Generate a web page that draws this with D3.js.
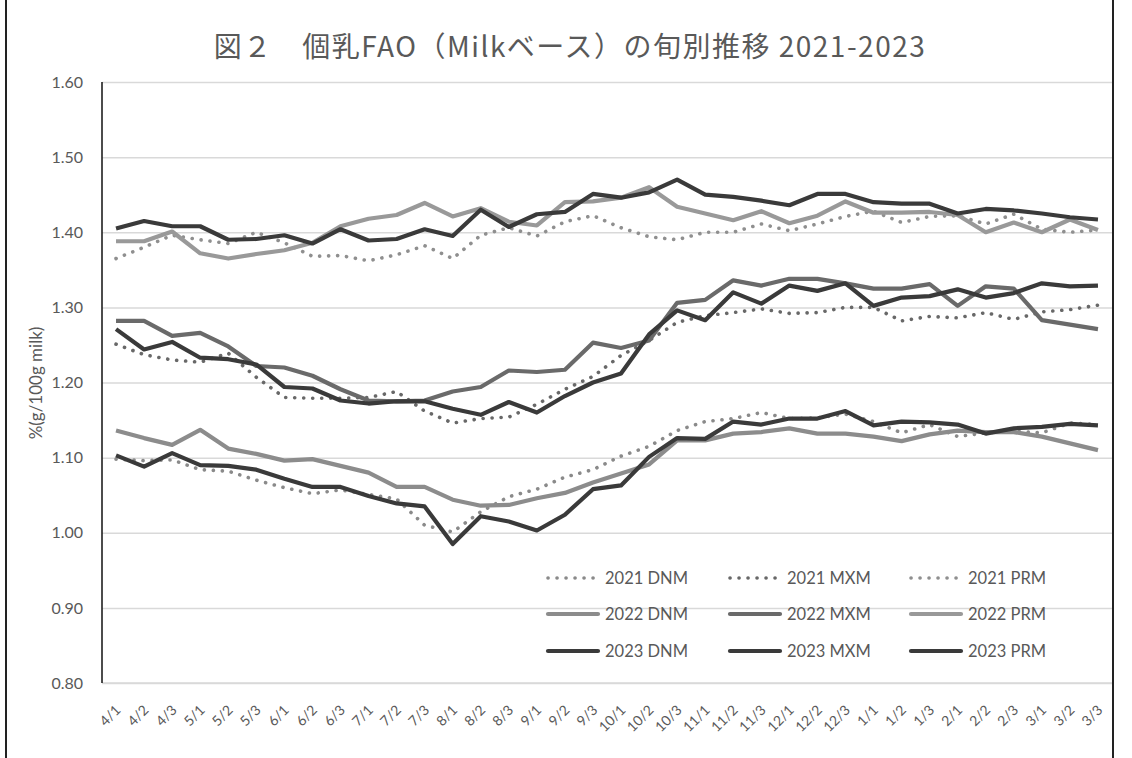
<!DOCTYPE html>
<html>
<head>
<meta charset="utf-8">
<script src="https://cdn.jsdelivr.net/npm/d3@7"></script>
<style>
  body { margin: 0; background: #fff; }
  svg { display: block; }
</style>
</head>
<body>
<div id="vis"></div>
<script>
// categories (旬: month/decade)
const cats = ["4/1","4/2","4/3","5/1","5/2","5/3","6/1","6/2","6/3","7/1","7/2","7/3",
  "8/1","8/2","8/3","9/1","9/2","9/3","10/1","10/2","10/3","11/1","11/2","11/3",
  "12/1","12/2","12/3","1/1","1/2","1/3","2/1","2/2","2/3","3/1","3/2","3/3"];

const dnm2021 = [1.098,1.096,1.097,1.084,1.082,1.070,1.060,1.052,1.057,1.051,1.045,1.010,
  1.001,1.028,1.048,1.058,1.074,1.084,1.102,1.115,1.136,1.148,1.152,1.160,
  1.152,1.153,1.158,1.148,1.133,1.144,1.128,1.133,1.135,1.133,1.146,1.144];
const mxm2021 = [1.251,1.237,1.230,1.227,1.239,1.207,1.180,1.179,1.179,1.180,1.188,1.162,
  1.146,1.152,1.154,1.171,1.191,1.208,1.236,1.256,1.280,1.289,1.293,1.298,
  1.292,1.293,1.300,1.300,1.282,1.288,1.286,1.293,1.284,1.294,1.297,1.303];
const prm2021 = [1.365,1.380,1.396,1.390,1.385,1.400,1.386,1.368,1.369,1.362,1.370,1.382,
  1.365,1.396,1.406,1.395,1.414,1.422,1.406,1.394,1.390,1.400,1.400,1.411,
  1.402,1.411,1.421,1.428,1.413,1.421,1.422,1.411,1.424,1.404,1.400,1.403];

const dnm2022 = [1.136,1.126,1.117,1.137,1.112,1.105,1.096,1.098,1.089,1.080,1.061,1.061,
  1.044,1.036,1.037,1.046,1.053,1.067,1.079,1.091,1.123,1.123,1.132,1.134,
  1.139,1.132,1.132,1.128,1.122,1.131,1.136,1.134,1.134,1.128,1.119,1.110];
const mxm2022 = [1.282,1.282,1.262,1.266,1.248,1.222,1.220,1.209,1.191,1.176,1.175,1.176,
  1.188,1.194,1.216,1.214,1.217,1.253,1.246,1.256,1.306,1.310,1.336,1.329,
  1.338,1.338,1.332,1.325,1.325,1.331,1.302,1.328,1.325,1.283,1.277,1.271];
const prm2022 = [1.388,1.388,1.401,1.372,1.365,1.371,1.376,1.386,1.408,1.418,1.423,1.439,
  1.421,1.432,1.414,1.409,1.440,1.441,1.446,1.460,1.434,1.425,1.416,1.428,
  1.412,1.422,1.441,1.426,1.426,1.427,1.423,1.400,1.413,1.400,1.417,1.403];

const dnm2023 = [1.103,1.088,1.106,1.090,1.089,1.084,1.072,1.061,1.061,1.049,1.039,1.035,
  0.985,1.022,1.015,1.003,1.024,1.058,1.063,1.101,1.126,1.125,1.148,1.144,
  1.152,1.152,1.162,1.143,1.148,1.147,1.144,1.132,1.139,1.141,1.145,1.143];
const mxm2023 = [1.271,1.244,1.254,1.233,1.231,1.224,1.194,1.192,1.176,1.172,1.175,1.175,
  1.165,1.157,1.174,1.160,1.182,1.200,1.212,1.264,1.296,1.283,1.320,1.305,
  1.329,1.322,1.332,1.302,1.313,1.315,1.324,1.313,1.319,1.332,1.328,1.329];
const prm2023 = [1.405,1.415,1.408,1.408,1.390,1.391,1.396,1.385,1.404,1.389,1.391,1.404,
  1.395,1.430,1.407,1.424,1.427,1.451,1.446,1.453,1.470,1.450,1.447,1.442,
  1.436,1.451,1.451,1.440,1.438,1.438,1.425,1.431,1.429,1.425,1.420,1.417];

const yTicks = [0.80,0.90,1.00,1.10,1.20,1.30,1.40,1.50,1.60];

// series styles, in legend order (row by row)
const series = [
  { name: "2021 DNM", values: dnm2021, color: "#8a8a8a", dotted: true },
  { name: "2021 MXM", values: mxm2021, color: "#686868", dotted: true },
  { name: "2021 PRM", values: prm2021, color: "#8f8f8f", dotted: true },
  { name: "2022 DNM", values: dnm2022, color: "#8c8c8c", dotted: false },
  { name: "2022 MXM", values: mxm2022, color: "#6a6a6a", dotted: false },
  { name: "2022 PRM", values: prm2022, color: "#999999", dotted: false },
  { name: "2023 DNM", values: dnm2023, color: "#3a3a3a", dotted: false },
  { name: "2023 MXM", values: mxm2023, color: "#3a3a3a", dotted: false },
  { name: "2023 PRM", values: prm2023, color: "#3a3a3a", dotted: false }
];

const W = 1132, H = 758;
const plot = { left: 102, right: 1112, top: 82, bottom: 683 };
const numFont = "Lato, 'Open Sans', sans-serif";

const svg = d3.select("#vis").append("svg")
  .attr("width", W)
  .attr("height", H);

svg.append("rect").attr("width", W).attr("height", H).attr("fill", "#fff");

// outer frame (left & right edges visible)
svg.append("line").attr("x1", 6).attr("x2", 6).attr("y1", 0).attr("y2", H)
  .attr("stroke", "#222").attr("stroke-width", 2);
svg.append("line").attr("x1", 1113).attr("x2", 1113).attr("y1", 0).attr("y2", H)
  .attr("stroke", "#222").attr("stroke-width", 2);

const x = d3.scalePoint()
  .domain(cats)
  .range([plot.left, plot.right])
  .padding(0.5);

const y = d3.scaleLinear()
  .domain([0.8, 1.6])
  .range([plot.bottom, plot.top]);

// gridlines
const grid = svg.append("g")
  .attr("transform", `translate(${plot.left},0)`)
  .call(d3.axisLeft(y).tickValues(yTicks).tickSize(-(plot.right - plot.left)).tickFormat(""));
grid.select(".domain").remove();
grid.selectAll("line").attr("stroke", "#d9d9d9").attr("stroke-width", 1.5);

// y axis labels
const yAxis = svg.append("g")
  .attr("transform", `translate(${plot.left},0)`)
  .call(d3.axisLeft(y).tickValues(yTicks).tickSize(0).tickPadding(19).tickFormat(d3.format(".2f")));
yAxis.select(".domain").remove();
yAxis.selectAll("text")
  .attr("fill", "#595959")
  .style("font-family", numFont)
  .style("font-size", "16px");

// x axis line
svg.append("line")
  .attr("x1", plot.left).attr("x2", plot.right)
  .attr("y1", plot.bottom).attr("y2", plot.bottom)
  .attr("stroke", "#d9d9d9").attr("stroke-width", 1.5);

// y axis line
svg.append("line")
  .attr("x1", plot.left).attr("x2", plot.left)
  .attr("y1", plot.top).attr("y2", plot.bottom)
  .attr("stroke", "#111").attr("stroke-width", 1.5);

// x tick labels rotated -45
const xAxis = svg.append("g")
  .attr("transform", `translate(0,${plot.bottom})`)
  .call(d3.axisBottom(x).tickSize(0));
xAxis.select(".domain").remove();
xAxis.selectAll("text")
  .attr("fill", "#595959")
  .attr("text-anchor", "end")
  .attr("dy", null)
  .attr("y", 0)
  .attr("transform", "translate(5,28) rotate(-45)")
  .style("font-family", numFont)
  .style("font-size", "14px");

// lines
const line = d3.line()
  .x((d, i) => x(cats[i]))
  .y(d => y(d));

svg.append("g").selectAll("path")
  .data(series)
  .join("path")
  .attr("fill", "none")
  .attr("stroke", d => d.color)
  .attr("stroke-width", d => d.dotted ? 3.6 : 4.2)
  .attr("stroke-linejoin", "round")
  .attr("stroke-linecap", d => d.dotted ? "round" : "butt")
  .attr("stroke-dasharray", d => d.dotted ? "0.1 8.9" : null)
  .attr("d", d => line(d.values));

// legend, 3 x 3
const legCols = [548, 730, 911];
const legRows = [578, 614, 651];
const leg = svg.append("g").selectAll("g")
  .data(series)
  .join("g")
  .attr("transform", (d, i) => `translate(${legCols[i % 3]},${legRows[Math.floor(i / 3)]})`);

leg.append("line")
  .attr("x1", 0).attr("x2", 50)
  .attr("stroke", d => d.color)
  .attr("stroke-width", d => d.dotted ? 3.6 : 4.2)
  .attr("stroke-linecap", "round")
  .attr("stroke-dasharray", d => d.dotted ? "0.1 8.9" : null);

leg.append("text")
  .attr("x", 57)
  .attr("y", 6)
  .attr("fill", "#595959")
  .style("font-family", numFont)
  .style("font-size", "16.5px")
  .text(d => d.name);

// title
svg.append("text")
  .attr("x", 570)
  .attr("y", 57)
  .attr("text-anchor", "middle")
  .attr("fill", "#595959")
  .style("font-family", "'Noto Sans CJK JP', sans-serif")
  .style("font-size", "28px")
  .style("letter-spacing", "1.5px")
  .text("図２　個乳FAO（Milkベース）の旬別推移 2021-2023");

// y axis title
svg.append("text")
  .attr("transform", "translate(42,383) rotate(-90)")
  .attr("text-anchor", "middle")
  .attr("fill", "#595959")
  .style("font-family", numFont)
  .style("font-size", "17px")
  .text("%(g/100g milk)");
</script>
</body>
</html>
